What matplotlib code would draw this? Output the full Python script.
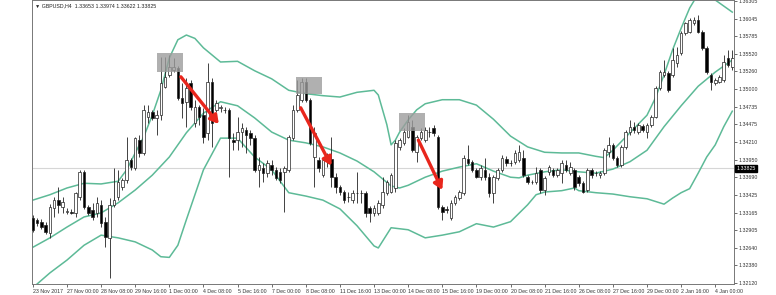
import numpy as np
import matplotlib
matplotlib.use("Agg")
import matplotlib.pyplot as plt
from matplotlib.patches import Rectangle

plt.rcParams['font.family'] = ['Liberation Sans', 'DejaVu Sans']

# GBPUSD H4 candles
opens = [1.3308, 1.3306, 1.3303, 1.3298, 1.3286, 1.3323, 1.3335, 1.3325, 1.3317, 1.3317,
         1.3316, 1.3340, 1.3377, 1.3325, 1.3320, 1.3316, 1.3328, 1.3303, 1.3279, 1.3328,
         1.3340, 1.3354, 1.3365, 1.3395, 1.3383, 1.3424, 1.3405, 1.3458, 1.3466, 1.3457,
         1.3461, 1.3503, 1.3521, 1.3528, 1.3531, 1.3487, 1.3481, 1.3509, 1.3449, 1.3473,
         1.3461, 1.3435, 1.3510, 1.3469, 1.3472, 1.3469, 1.3469, 1.3424, 1.3424, 1.3436,
         1.3439, 1.3435, 1.3427, 1.3380, 1.3383, 1.3375, 1.3387, 1.3380, 1.3377, 1.3377,
         1.3380, 1.3427, 1.3469, 1.3484, 1.3510, 1.3484, 1.3399, 1.3395, 1.3372, 1.3395,
         1.3396, 1.3369, 1.3354, 1.3347, 1.3340, 1.3335, 1.3346, 1.3346, 1.3346, 1.3323,
         1.3316, 1.3316, 1.3328, 1.3346, 1.3347, 1.3353, 1.3414, 1.3420, 1.3429, 1.3444,
         1.3406, 1.3427, 1.3424, 1.3436, 1.3442, 1.3429, 1.3325, 1.3322, 1.3308, 1.3331,
         1.3338, 1.3346, 1.3396, 1.3392, 1.3380, 1.3369, 1.3380, 1.3369, 1.3346, 1.3368,
         1.3380, 1.3396, 1.3390, 1.3392, 1.3395, 1.3398, 1.3369, 1.3362, 1.3362, 1.3380,
         1.3350, 1.3377, 1.3380, 1.3372, 1.3375, 1.3387, 1.3375, 1.3380, 1.3369, 1.3360,
         1.3350, 1.3380, 1.3375, 1.3372, 1.3375, 1.3406, 1.3417, 1.3398, 1.3387, 1.3414,
         1.3436, 1.3444, 1.3436, 1.3445, 1.3436, 1.3446, 1.3458, 1.3501, 1.3521, 1.3524,
         1.3521, 1.3539, 1.3553, 1.3583, 1.3585, 1.3598, 1.3602, 1.3585, 1.3561, 1.3521,
         1.3509, 1.3510, 1.3513, 1.3546, 1.3533]
highs = [1.3313, 1.3308, 1.3307, 1.3303, 1.3329, 1.3340, 1.3354, 1.3340, 1.3323, 1.3322,
         1.3347, 1.3380, 1.3380, 1.3328, 1.3331, 1.3340, 1.3335, 1.3310, 1.3338, 1.3383,
         1.3380, 1.3368, 1.3429, 1.3398, 1.3429, 1.3432, 1.3476, 1.3476, 1.3469, 1.3469,
         1.3547, 1.3547, 1.3550, 1.3546, 1.3534, 1.3509, 1.3516, 1.3513, 1.3484, 1.3476,
         1.3472, 1.3539, 1.3516, 1.3484, 1.3476, 1.3473, 1.3472, 1.3435, 1.3458, 1.3449,
         1.3444, 1.3439, 1.3432, 1.3399, 1.3390, 1.3395, 1.3395, 1.3384, 1.3383, 1.3386,
         1.3432, 1.3476, 1.3513, 1.3516, 1.3516, 1.3487, 1.3444, 1.3399, 1.3398, 1.3405,
         1.3429, 1.3375, 1.3357, 1.3350, 1.3347, 1.3350, 1.3377, 1.3350, 1.3349, 1.3326,
         1.3328, 1.3335, 1.3369, 1.3365, 1.3375, 1.3424, 1.3427, 1.3442, 1.3461, 1.3454,
         1.3432, 1.3442, 1.3444, 1.3444, 1.3446, 1.3432, 1.3328, 1.3326, 1.3335, 1.3343,
         1.3350, 1.3402, 1.3417, 1.3395, 1.3383, 1.3387, 1.3398, 1.3375, 1.3372, 1.3383,
         1.3402, 1.3401, 1.3395, 1.3409, 1.3417, 1.3409, 1.3372, 1.3365, 1.3384, 1.3383,
         1.3371, 1.3387, 1.3383, 1.3383, 1.3395, 1.3395, 1.3392, 1.3383, 1.3372, 1.3363,
         1.3383, 1.3383, 1.3378, 1.3378, 1.3412, 1.3429, 1.3420, 1.3401, 1.3417, 1.3439,
         1.3454, 1.3451, 1.3449, 1.3448, 1.3449, 1.3461, 1.3504, 1.3528, 1.3543, 1.3527,
         1.3561, 1.3562, 1.3586, 1.3599, 1.3605, 1.3607, 1.3610, 1.3588, 1.3564, 1.3524,
         1.3516, 1.3521, 1.3550, 1.3558, 1.3558]
lows = [1.3288, 1.3297, 1.3292, 1.3285, 1.3279, 1.3310, 1.3316, 1.3316, 1.3314, 1.3314,
        1.3310, 1.3335, 1.3322, 1.3313, 1.3306, 1.3310, 1.3295, 1.3265, 1.3219, 1.3325,
        1.3335, 1.3350, 1.3360, 1.3380, 1.3380, 1.3399, 1.3402, 1.3449, 1.3454, 1.3432,
        1.3454, 1.3501, 1.3518, 1.3525, 1.3484, 1.3457, 1.3444, 1.3469, 1.3444, 1.3446,
        1.3420, 1.3424, 1.3414, 1.3466, 1.3466, 1.3464, 1.3369, 1.3409, 1.3409, 1.3414,
        1.3405, 1.3417, 1.3377, 1.3354, 1.3362, 1.3369, 1.3372, 1.3365, 1.3360, 1.3317,
        1.3377, 1.3424, 1.3466, 1.3481, 1.3481, 1.3417, 1.3354, 1.3377, 1.3369, 1.3384,
        1.3354, 1.3346, 1.3343, 1.3331, 1.3332, 1.3331, 1.3331, 1.3331, 1.3310, 1.3303,
        1.3311, 1.3313, 1.3323, 1.3343, 1.3346, 1.3347, 1.3409, 1.3417, 1.3427, 1.3406,
        1.3392, 1.3424, 1.3421, 1.3429, 1.3430, 1.3322, 1.3306, 1.3316, 1.3306, 1.3328,
        1.3335, 1.3343, 1.3387, 1.3377, 1.3368, 1.3365, 1.3365, 1.3340, 1.3331, 1.3365,
        1.3377, 1.3386, 1.3386, 1.3389, 1.3392, 1.3369, 1.3359, 1.3359, 1.3359, 1.3346,
        1.3343, 1.3372, 1.3369, 1.3369, 1.3360, 1.3377, 1.3372, 1.3350, 1.3356, 1.3346,
        1.3347, 1.3368, 1.3371, 1.3368, 1.3372, 1.3399, 1.3395, 1.3384, 1.3384, 1.3411,
        1.3432, 1.3435, 1.3433, 1.3436, 1.3427, 1.3444, 1.3457, 1.3498, 1.3518, 1.3495,
        1.3518, 1.3533, 1.3550, 1.3580, 1.3583, 1.3595, 1.3583, 1.3558, 1.3522, 1.3498,
        1.3506, 1.3509, 1.3510, 1.3533, 1.3528]
closes = [1.3291, 1.3301, 1.3295, 1.3288, 1.3325, 1.3335, 1.3328, 1.3332, 1.3319, 1.3316,
          1.3346, 1.3377, 1.3325, 1.3316, 1.3310, 1.3331, 1.3301, 1.3280, 1.3328, 1.3335,
          1.3362, 1.3365, 1.3395, 1.3384, 1.3427, 1.3405, 1.3469, 1.3466, 1.3457, 1.3461,
          1.3509, 1.3518, 1.3533, 1.3533, 1.3487, 1.3479, 1.3501, 1.3473, 1.3473, 1.3458,
          1.3429, 1.3510, 1.3449, 1.3479, 1.3473, 1.3469, 1.3427, 1.3421, 1.3436, 1.3442,
          1.3432, 1.3427, 1.3380, 1.3387, 1.3375, 1.3390, 1.3380, 1.3368, 1.3365, 1.3383,
          1.3429, 1.3469, 1.3491, 1.3510, 1.3484, 1.3420, 1.3435, 1.3383, 1.3395, 1.3399,
          1.3369, 1.3354, 1.3347, 1.3335, 1.3340, 1.3346, 1.3346, 1.3345, 1.3316, 1.3316,
          1.3323, 1.3331, 1.3347, 1.3362, 1.3372, 1.3420, 1.3424, 1.3436, 1.3451, 1.3409,
          1.3429, 1.3436, 1.3439, 1.3436, 1.3435, 1.3325, 1.3317, 1.3321, 1.3331, 1.3340,
          1.3347, 1.3398, 1.3390, 1.3380, 1.3369, 1.3383, 1.3369, 1.3346, 1.3369, 1.3380,
          1.3398, 1.3390, 1.3390, 1.3405, 1.3406, 1.3372, 1.3362, 1.3362, 1.3375, 1.3350,
          1.3368, 1.3384, 1.3372, 1.3380, 1.3390, 1.3380, 1.3384, 1.3354, 1.3360, 1.3347,
          1.3380, 1.3372, 1.3375, 1.3375, 1.3409, 1.3417, 1.3398, 1.3387, 1.3414, 1.3436,
          1.3444, 1.3439, 1.3446, 1.3439, 1.3446, 1.3458, 1.3501, 1.3525, 1.3525, 1.3498,
          1.3543, 1.3550, 1.3583, 1.3598, 1.3602, 1.3602, 1.3585, 1.3561, 1.3525, 1.3510,
          1.3513, 1.3518, 1.3540, 1.3536, 1.3546]

# Bollinger bands as drawn on the chart (bar index, price)
upper_x = [0, 4, 8, 12, 16, 20, 22, 24, 26, 28, 30, 32, 34, 36, 38, 40, 44, 48, 52, 56,
           60, 64, 68, 72, 76, 80, 81, 83, 84, 85, 86, 88, 90, 92, 96, 100, 104, 108, 112, 116,
           120, 124, 128, 132, 134, 136, 140, 144, 146, 148, 150, 152, 154, 156, 158, 160, 162, 164]
upper_y = [1.3335, 1.3343, 1.3353, 1.3360, 1.3359, 1.3363, 1.3380, 1.3405, 1.3429, 1.3461,
           1.3498, 1.3546, 1.3573, 1.3580, 1.3575, 1.3561, 1.3540, 1.3541, 1.3527, 1.3515,
           1.3498, 1.3493, 1.3490, 1.3488, 1.3495, 1.3498, 1.3491, 1.3447, 1.3417, 1.3424,
           1.3436, 1.3454, 1.3469, 1.3478, 1.3484, 1.3484, 1.3476, 1.3455, 1.3430, 1.3414,
           1.3406, 1.3405, 1.3405, 1.3400, 1.3398, 1.3409, 1.3435, 1.3461, 1.3487, 1.3521,
           1.3558, 1.3590, 1.3620, 1.3641, 1.3647, 1.3632, 1.3623, 1.3614]
mid_x = [0, 4, 8, 12, 16, 20, 24, 28, 32, 36, 40, 44, 48, 52, 56, 60, 64, 68, 72, 76,
         80, 84, 86, 88, 92, 96, 100, 104, 108, 112, 114, 116, 120, 124, 128, 132, 136, 140, 144, 148,
         152, 156, 160, 164]
mid_y = [1.3265, 1.3279, 1.3295, 1.3310, 1.3316, 1.3331, 1.3350, 1.3372, 1.3399, 1.3435,
         1.3464, 1.3481, 1.3475, 1.3457, 1.3436, 1.3424, 1.3420, 1.3414, 1.3405, 1.3393,
         1.3377, 1.3356, 1.3353, 1.3357, 1.3369, 1.3378, 1.3384, 1.3389, 1.3378, 1.3369,
         1.3368, 1.3372, 1.3377, 1.3380, 1.3377, 1.3375, 1.3381, 1.3392, 1.3409, 1.3444,
         1.3475, 1.3504, 1.3525, 1.3543]
low_x = [0, 4, 8, 12, 16, 20, 24, 28, 30, 32, 34, 36, 40, 44, 48, 52, 56, 60, 64, 68, 72, 76,
         80, 81, 84, 88, 92, 96, 100, 104, 108, 112, 116, 118, 120, 124, 127, 128, 132, 136, 140, 144,
         148, 150, 152, 154, 156, 158, 160, 162, 164]
low_y = [1.3205, 1.3227, 1.3246, 1.3268, 1.3283, 1.3279, 1.3273, 1.3261, 1.3251, 1.3250,
         1.3268, 1.3306, 1.3380, 1.3427, 1.3427, 1.3399, 1.3380, 1.3346, 1.3341, 1.3335,
         1.3322, 1.3297, 1.3267, 1.3264, 1.3294, 1.3291, 1.3279, 1.3283, 1.3288, 1.3300,
         1.3295, 1.3303, 1.3328, 1.3343, 1.3347, 1.3349, 1.3353, 1.3349, 1.3346, 1.3344,
         1.3340, 1.3337, 1.3329, 1.3338, 1.3346, 1.3352, 1.3375, 1.3399, 1.3417, 1.3444,
         1.3467]

date_labels = ["23 Nov 2017", "27 Nov 00:00", "28 Nov 08:00", "29 Nov 16:00", "1 Dec 00:00",
               "4 Dec 08:00", "5 Dec 16:00", "7 Dec 00:00", "8 Dec 08:00", "11 Dec 16:00",
               "13 Dec 00:00", "14 Dec 08:00", "15 Dec 16:00", "19 Dec 00:00", "20 Dec 08:00",
               "21 Dec 16:00", "26 Dec 08:00", "27 Dec 16:00", "29 Dec 00:00", "2 Jan 16:00",
               "4 Jan 00:00"]
price_ticks = [1.36305, 1.36045, 1.35785, 1.35520, 1.35260, 1.35000, 1.34735, 1.34475, 1.34210,
               1.33950, 1.33690, 1.33425, 1.33165, 1.32905, 1.32640, 1.32380, 1.32120]
last_price = 1.33825
header = "\u25bc GBPUSD,H4  1.33653 1.33974 1.33622 1.33825"

# highlighted zones (x0, x1, y0, y1) and red arrows (start, end)
zones = [(29.0, 35.1, 1.3525, 1.3553), (61.8, 67.9, 1.3493, 1.3518), (85.9, 92.0, 1.3438, 1.3464)]
arrows = [((34.7, 1.3518), (43.6, 1.3448)),
          ((62.8, 1.3472), (70.0, 1.3386)),
          ((90.4, 1.3424), (96.0, 1.3350))]

o = np.array(opens)
h = np.array(highs)
l = np.array(lows)
c = np.array(closes)
x = np.arange(len(o))

fig = plt.figure(figsize=(7.76, 2.95), dpi=100)
ax = fig.add_axes([32 / 776, 11 / 295, 702 / 776, 284 / 295])

ax.axhline(last_price, color='#d6d6d6', lw=0.8, zorder=0)

band_col = '#5dba97'
ax.plot(upper_x, upper_y, color=band_col, lw=1.1, zorder=1)
ax.plot(mid_x, mid_y, color=band_col, lw=1.1, zorder=1)
ax.plot(low_x, low_y, color=band_col, lw=1.1, zorder=1)

up = c >= o
ax.vlines(x, l, h, color='#222222', lw=0.6, zorder=2)
ax.bar(x, np.abs(c - o), bottom=np.minimum(o, c), width=0.6,
       color=np.where(up, 'white', 'black'), edgecolor='#222222', linewidth=0.5, zorder=3)

for x0, x1, y0, y1 in zones:
    ax.add_patch(Rectangle((x0, y0), x1 - x0, y1 - y0, fc='#9c9c9c', ec='none', alpha=0.8, zorder=4))

for start, end in arrows:
    ax.annotate('', xy=end, xytext=start, zorder=5,
                arrowprops=dict(arrowstyle='-|>,head_length=0.6,head_width=0.35', color='#e8261c',
                                lw=2.4, mutation_scale=8, shrinkA=0, shrinkB=0))

ax.set_xlim(-0.2, 164.4)
ax.set_ylim(1.32105, 1.3632)

ax.set_xticks(np.arange(0, 8 * len(date_labels), 8))
ax.set_xticklabels(date_labels, ha='left')
ax.yaxis.tick_right()
ax.set_yticks(price_ticks)
ax.set_yticklabels([f"{v:.5f}" for v in price_ticks])
ax.tick_params(axis='both', labelsize=3.8, length=2, width=0.5, pad=1, colors='#333333')
ax.tick_params(axis='x', pad=1.5)

for s in ax.spines.values():
    s.set_color('#777777')
    s.set_linewidth(0.7)

ax.text(1.003, last_price, f"{last_price:.5f}", transform=ax.get_yaxis_transform(),
        ha='left', va='center', color='white', fontsize=3.8,
        bbox=dict(boxstyle='square,pad=0.2', fc='black', ec='black'))
ax.text(0.004, 0.99, header, transform=ax.transAxes, ha='left', va='top',
        fontsize=3.8, color='#222222')

fig.savefig("out.png", dpi=100)
